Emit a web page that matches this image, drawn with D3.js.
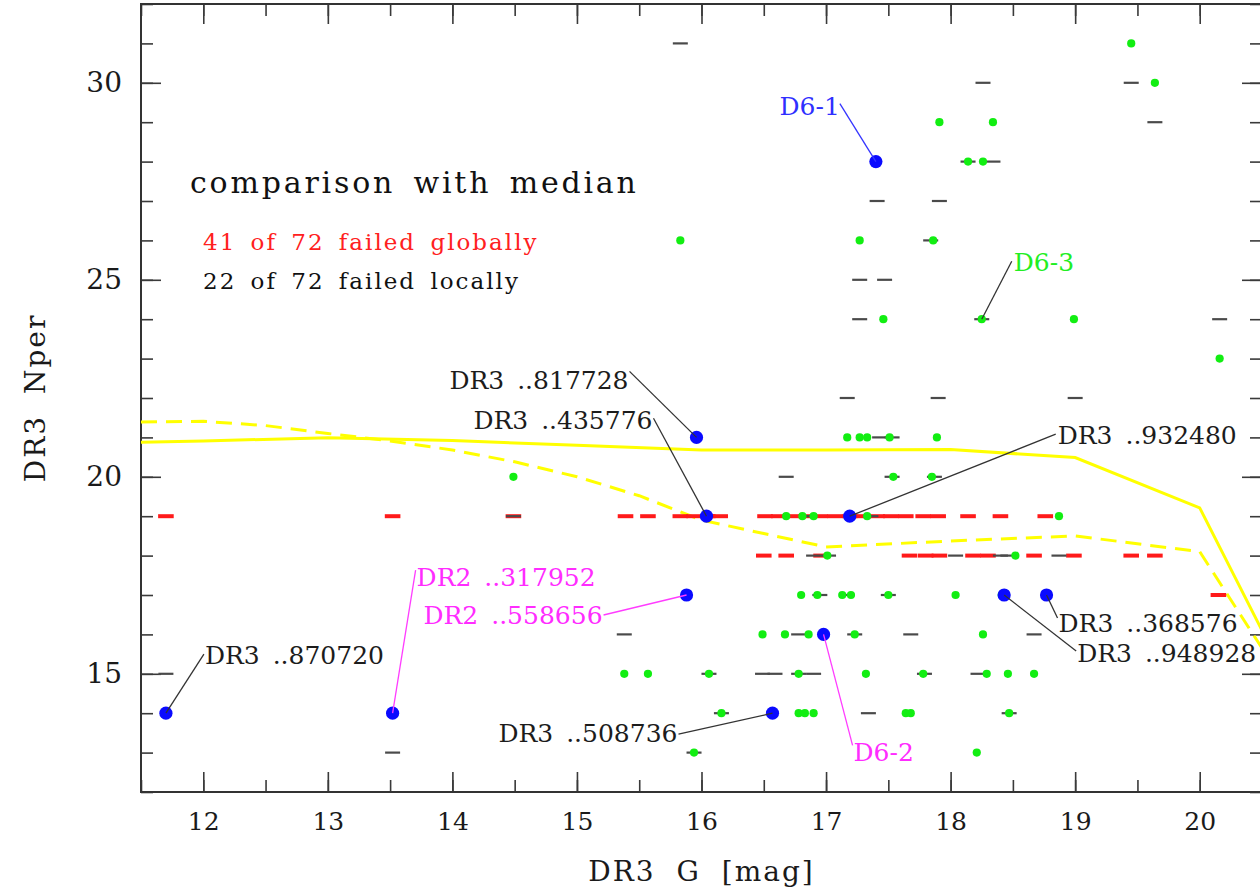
<!DOCTYPE html>
<html>
<head>
<meta charset="utf-8">
<script src="https://cdn.jsdelivr.net/npm/d3@7"></script>
<style>
  html, body { margin: 0; padding: 0; background: #fff; overflow: hidden; }
  svg { display: block; }
  text { font-family: "DejaVu Serif", "Liberation Serif", serif; }
</style>
</head>
<body>
<svg id="chart" width="1260" height="890"></svg>
<script>
// ---------------- data ----------------
const xDomain = [11.5, 20.5];
const yDomain = [12, 32];
const xTickLabels = [12, 13, 14, 15, 16, 17, 18, 19, 20];
const yTickLabels = [15, 20, 25, 30];

// Median curves: [G, Nper]
const medianSolidG = [11.5, 12, 13, 14, 15, 16, 17, 18, 19, 20, 20.5];
const medianSolidN = [20.88, 20.91, 20.99, 20.92, 20.80, 20.68, 20.68, 20.69, 20.49, 19.21, 16.1];
const medianDashG = [11.5, 12, 12.5, 13, 13.5, 14, 14.5, 15, 15.5, 16, 16.5, 17, 18, 19, 20, 20.5];
const medianDashN = [21.39, 21.41, 21.30, 21.10, 20.91, 20.68, 20.38, 20.0, 19.52, 18.9, 18.56, 18.22, 18.37, 18.50, 18.10, 15.65];

// Comparison stars failing globally (red): [G, Nper]
const redStars = [
  [11.70, 19], [13.52, 19], [14.49, 19], [15.39, 19], [15.57, 19], [15.83, 19], [15.94, 19],
  [16.05, 19], [16.15, 19], [16.51, 19], [16.62, 19], [16.73, 19], [16.84, 19], [16.95, 19],
  [17.07, 19], [17.19, 19], [17.30, 19], [17.41, 19], [17.52, 19], [17.64, 19], [17.78, 19],
  [17.90, 19], [18.14, 19], [18.40, 19], [18.76, 19],
  [16.50, 18], [16.68, 18], [16.96, 18], [17.67, 18], [17.80, 18], [17.91, 18], [18.18, 18],
  [18.30, 18], [18.67, 18], [18.99, 18], [19.45, 18], [19.64, 18],
  [20.15, 17]
];

// Comparison stars failing locally (dark dashes): [G, Nper]
const localStars = [
  [15.83, 31], [18.26, 30], [19.45, 30], [19.64, 29], [18.14, 28], [18.34, 28],
  [17.41, 27], [17.91, 27], [17.84, 26], [17.27, 25], [17.47, 25],
  [17.27, 24], [18.25, 24], [20.16, 24], [17.17, 22], [17.90, 22], [19.00, 22],
  [17.43, 21], [17.53, 21], [16.68, 20], [17.53, 20], [17.87, 20],
  [14.49, 19], [16.86, 19], [17.36, 19],
  [16.90, 18], [17.02, 18], [18.04, 18], [18.40, 18], [18.46, 18], [18.87, 18],
  [16.95, 17], [17.17, 17], [17.50, 17],
  [15.38, 16], [16.78, 16], [17.23, 16], [17.68, 16], [18.67, 16],
  [11.70, 15], [16.06, 15], [16.49, 15], [16.59, 15], [16.78, 15], [16.90, 15], [17.79, 15], [18.22, 15],
  [16.16, 14], [17.34, 14], [18.47, 14],
  [13.52, 13], [15.94, 13]
];

// Target stars (green): [G, Nper]
const greenStars = [
  [19.45, 31], [19.64, 30], [17.91, 29], [18.34, 29], [18.14, 28], [18.26, 28],
  [15.83, 26], [17.27, 26], [17.86, 26], [17.46, 24], [18.25, 24], [18.99, 24], [20.16, 23],
  [17.17, 21], [17.27, 21], [17.33, 21], [17.51, 21], [17.89, 21],
  [14.49, 20], [17.54, 20], [17.85, 20],
  [16.68, 19], [16.81, 19], [16.90, 19], [17.33, 19], [18.87, 19],
  [17.01, 18], [18.52, 18],
  [16.80, 17], [16.93, 17], [17.13, 17], [17.20, 17], [17.50, 17], [18.04, 17], [18.41, 17],
  [16.49, 16], [16.67, 16], [16.86, 16], [17.23, 16], [18.26, 16],
  [15.38, 15], [15.57, 15], [16.06, 15], [16.78, 15], [17.32, 15], [17.78, 15], [18.29, 15], [18.46, 15], [18.67, 15],
  [16.16, 14], [16.78, 14], [16.83, 14], [16.90, 14], [17.64, 14], [17.68, 14], [18.47, 14],
  [15.94, 13], [18.21, 13]
];

// Named stars: name, G, Nper, catalogue family, drawn as a big blue dot or not
const namedStars = [
  { name: "D6-1",         g: 17.40, n: 28, kind: "D6a", dot: true },
  { name: "D6-3",         g: 18.25, n: 24, kind: "D6c", dot: false },
  { name: "DR3 ..817728", g: 15.96, n: 21, kind: "DR3", dot: true },
  { name: "DR3 ..435776", g: 16.04, n: 19, kind: "DR3", dot: true },
  { name: "DR3 ..932480", g: 17.19, n: 19, kind: "DR3", dot: true },
  { name: "DR2 ..317952", g: 13.52, n: 14, kind: "DR2", dot: true },
  { name: "DR2 ..558656", g: 15.88, n: 17, kind: "DR2", dot: true },
  { name: "DR3 ..870720", g: 11.70, n: 14, kind: "DR3", dot: true },
  { name: "DR3 ..508736", g: 16.57, n: 14, kind: "DR3", dot: true },
  { name: "D6-2",         g: 16.98, n: 16, kind: "DR2", dot: true },
  { name: "DR3 ..368576", g: 18.77, n: 17, kind: "DR3", dot: true },
  { name: "DR3 ..948928", g: 18.43, n: 17, kind: "DR3", dot: true }
];

// ---------------- layout & style ----------------
// Leader end (lx, ly) and text position (tx, ty) in pixels relative to the star.
const labelLayout = {
  "D6-1":         { lx: -36, ly: -58,  tx: -36, ty: -47,  anchor: "end" },
  "D6-3":         { lx: 30,  ly: -58,  tx: 32,  ty: -48,  anchor: "start" },
  "DR3 ..817728": { lx: -67, ly: -66,  tx: -68, ty: -48,  anchor: "end" },
  "DR3 ..435776": { lx: -53, ly: -98,  tx: -54, ty: -87,  anchor: "end" },
  "DR3 ..932480": { lx: 206, ly: -82,  tx: 208, ty: -72,  anchor: "start" },
  "DR2 ..317952": { lx: 23,  ly: -143, tx: 24,  ty: -127, anchor: "start" },
  "DR2 ..558656": { lx: -83, ly: 20,   tx: -84, ty: 29,   anchor: "end" },
  "DR3 ..870720": { lx: 38,  ly: -59,  tx: 39,  ty: -49,  anchor: "start" },
  "DR3 ..508736": { lx: -94, ly: 21,   tx: -95, ty: 29,   anchor: "end" },
  "D6-2":         { lx: 29,  ly: 111,  tx: 30,  ty: 127,  anchor: "start" },
  "DR3 ..368576": { lx: 11,  ly: 23,   tx: 12,  ty: 37,   anchor: "start" },
  "DR3 ..948928": { lx: 72,  ly: 56,   tx: 73,  ty: 67,   anchor: "start" }
};
const kindStyle = {
  D6a: { text: "#2f2fff", line: "#3535ff" },
  D6c: { text: "#22ee22", line: "#333" },
  DR2: { text: "#ff2cff", line: "#ff3cff" },
  DR3: { text: "#1c1c1c", line: "#333" }
};

const plot = { left: 141, top: 4, right: 1262, bottom: 792 };
const svg = d3.select("#chart");

const x = d3.scaleLinear().domain(xDomain).range([plot.left, plot.right]);
const y = d3.scaleLinear().domain(yDomain).range([plot.bottom, plot.top]);

svg.append("defs").append("clipPath").attr("id", "plotClip")
  .append("rect")
  .attr("x", plot.left).attr("y", plot.top)
  .attr("width", plot.right - plot.left).attr("height", plot.bottom - plot.top);

// ---------------- axes ----------------
const minorX = d3.range(xDomain[0], xDomain[1] + 0.01, 0.5);
const minorY = d3.range(yDomain[0], yDomain[1] + 0.01, 1);

function styleAxis(g) {
  g.select(".domain").remove();
  g.selectAll(".tick line").attr("stroke", "#3a3a3a").attr("stroke-width", 1.6);
  g.selectAll("text").attr("fill", "#1a1a1a");
}

// bottom
svg.append("g").attr("transform", `translate(0,${plot.bottom})`)
  .call(d3.axisBottom(x).tickValues(minorX).tickSize(-12).tickFormat(""))
  .call(styleAxis);
svg.append("g").attr("transform", `translate(0,${plot.bottom})`)
  .call(d3.axisBottom(x).tickValues(xTickLabels).tickSize(-20).tickPadding(20).tickFormat(d3.format("d")))
  .call(styleAxis)
  .selectAll("text").attr("font-size", 25).attr("font-family", "DejaVu Serif");
// top
svg.append("g").attr("transform", `translate(0,${plot.top})`)
  .call(d3.axisTop(x).tickValues(minorX).tickSize(-12).tickFormat(""))
  .call(styleAxis);
svg.append("g").attr("transform", `translate(0,${plot.top})`)
  .call(d3.axisTop(x).tickValues(xTickLabels).tickSize(-20).tickFormat(""))
  .call(styleAxis);
// left
svg.append("g").attr("transform", `translate(${plot.left},0)`)
  .call(d3.axisLeft(y).tickValues(minorY).tickSize(-12).tickFormat(""))
  .call(styleAxis);
svg.append("g").attr("transform", `translate(${plot.left},0)`)
  .call(d3.axisLeft(y).tickValues(yTickLabels).tickSize(-20).tickPadding(19).tickFormat(d3.format("d")))
  .call(styleAxis)
  .selectAll("text").attr("font-size", 28).attr("font-family", "DejaVu Serif");
// right
svg.append("g").attr("transform", `translate(${plot.right},0)`)
  .call(d3.axisRight(y).tickValues(minorY).tickSize(-12).tickFormat(""))
  .call(styleAxis);
svg.append("g").attr("transform", `translate(${plot.right},0)`)
  .call(d3.axisRight(y).tickValues(yTickLabels).tickSize(-20).tickFormat(""))
  .call(styleAxis);

// frame
svg.append("rect")
  .attr("x", plot.left).attr("y", plot.top)
  .attr("width", plot.right - plot.left).attr("height", plot.bottom - plot.top)
  .attr("fill", "none").attr("stroke", "#333").attr("stroke-width", 2);

// axis titles
svg.append("text")
  .attr("x", (plot.left + plot.right) / 2).attr("y", 881)
  .attr("text-anchor", "middle").attr("font-size", 28)
  .attr("letter-spacing", 2).attr("word-spacing", 10).attr("fill", "#1a1a1a")
  .text("DR3 G [mag]");
svg.append("text")
  .attr("transform", `translate(45,${(plot.top + plot.bottom) / 2}) rotate(-90)`)
  .attr("text-anchor", "middle").attr("font-size", 28)
  .attr("letter-spacing", 2).attr("word-spacing", 10).attr("fill", "#1a1a1a")
  .text("DR3 Nper");

// ---------------- marks ----------------
const marks = svg.append("g").attr("clip-path", "url(#plotClip)");

const line = d3.line().x(d => x(d[0])).y(d => y(d[1]));
marks.append("path")
  .datum(d3.zip(medianSolidG, medianSolidN))
  .attr("d", line).attr("fill", "none")
  .attr("stroke", "#ffff00").attr("stroke-width", 3);
marks.append("path")
  .datum(d3.zip(medianDashG, medianDashN))
  .attr("d", line).attr("fill", "none")
  .attr("stroke", "#ffff00").attr("stroke-width", 3).attr("stroke-dasharray", "16,9");

const dashHalf = 7.8;
marks.append("g").selectAll("line").data(redStars).join("line")
  .attr("x1", d => x(d[0]) - dashHalf).attr("x2", d => x(d[0]) + dashHalf)
  .attr("y1", d => y(d[1])).attr("y2", d => y(d[1]))
  .attr("stroke", "#ff1a1a").attr("stroke-width", 4);

marks.append("g").selectAll("line").data(localStars).join("line")
  .attr("x1", d => x(d[0]) - 7.5).attr("x2", d => x(d[0]) + 7.5)
  .attr("y1", d => y(d[1])).attr("y2", d => y(d[1]))
  .attr("stroke", "#4a4a4a").attr("stroke-width", 2.2);

marks.append("g").selectAll("circle").data(greenStars).join("circle")
  .attr("cx", d => x(d[0])).attr("cy", d => y(d[1])).attr("r", 4.1)
  .attr("fill", "#12ee12");

marks.append("g").selectAll("circle").data(namedStars.filter(d => d.dot)).join("circle")
  .attr("cx", d => x(d.g)).attr("cy", d => y(d.n)).attr("r", 6.6)
  .attr("fill", "#0a0aff");

// leaders and labels
const ann = svg.append("g");
ann.selectAll("line").data(namedStars).join("line")
  .attr("x1", d => x(d.g)).attr("y1", d => y(d.n))
  .attr("x2", d => x(d.g) + labelLayout[d.name].lx)
  .attr("y2", d => y(d.n) + labelLayout[d.name].ly)
  .attr("stroke", d => kindStyle[d.kind].line).attr("stroke-width", 1.3);
ann.selectAll("text").data(namedStars).join("text")
  .attr("x", d => x(d.g) + labelLayout[d.name].tx)
  .attr("y", d => y(d.n) + labelLayout[d.name].ty)
  .attr("text-anchor", d => labelLayout[d.name].anchor)
  .attr("font-size", 25).attr("word-spacing", 5)
  .attr("fill", d => kindStyle[d.kind].text)
  .text(d => d.name);

// legend text
svg.append("text").attr("x", 190).attr("y", 193)
  .attr("font-size", 30).attr("letter-spacing", 2.8).attr("word-spacing", 6)
  .attr("fill", "#111").text("comparison with median");
svg.append("text").attr("x", 203).attr("y", 250)
  .attr("font-size", 23).attr("letter-spacing", 2).attr("word-spacing", 5)
  .attr("fill", "#ff2020").text("41 of 72 failed globally");
svg.append("text").attr("x", 203).attr("y", 289)
  .attr("font-size", 23).attr("letter-spacing", 2).attr("word-spacing", 5)
  .attr("fill", "#111").text("22 of 72 failed locally");
</script>
</body>
</html>
